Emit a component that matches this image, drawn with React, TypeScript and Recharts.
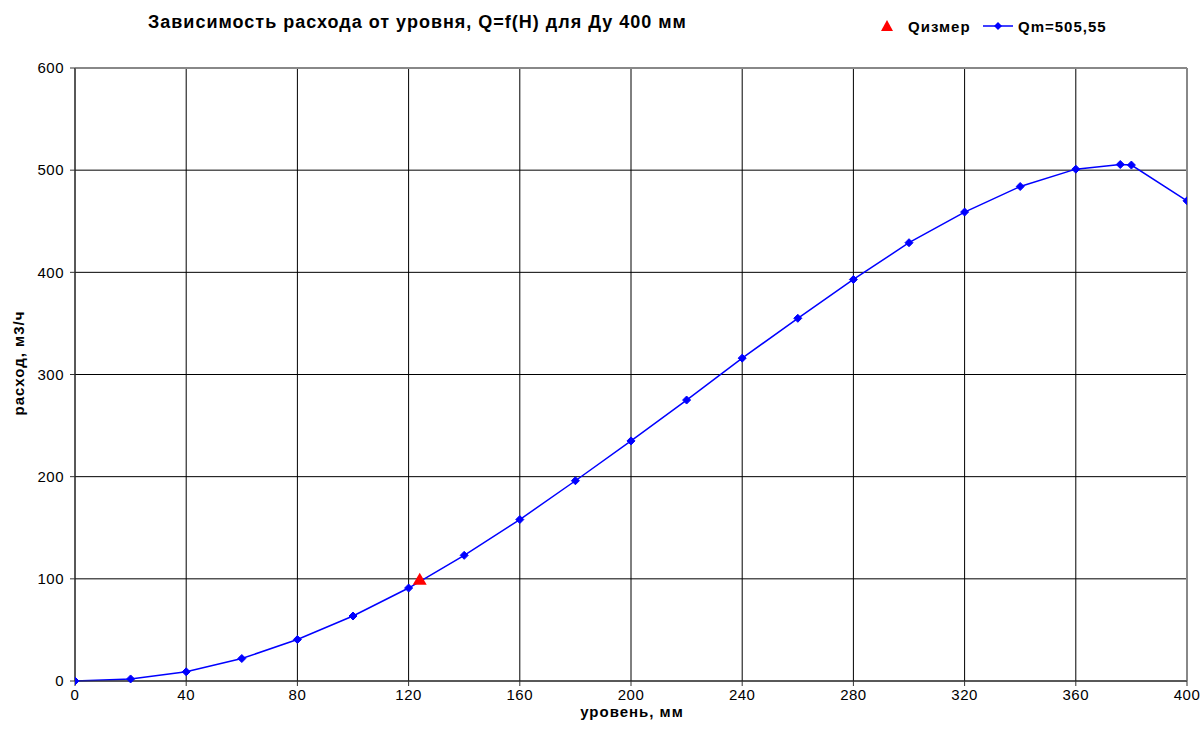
import React from 'react';
import {
  ComposedChart,
  Line,
  Scatter,
  XAxis,
  YAxis,
  CartesianGrid,
  ReferenceLine,
} from 'recharts';

const levels = [0, 20, 40, 60, 80, 100, 120, 140, 160, 180, 200, 220, 240, 260, 280, 300, 320, 340, 360, 376, 380, 400];
const flows = [0, 2, 9, 22, 40.6, 63.6, 91, 123, 158, 196, 235, 275, 316, 355, 393, 429, 459, 484, 501, 505.55, 505, 470];

const measuredLevel = [124];
const measuredFlow = [99];

const xTicks = [0, 40, 80, 120, 160, 200, 240, 280, 320, 360, 400];
const yTicks = [0, 100, 200, 300, 400, 500, 600];

const curveData = levels.map((h, i) => ({ h, q: flows[i] }));
const measuredData = measuredLevel.map((h, i) => ({ h, q: measuredFlow[i] }));

const FONT = 'Liberation Sans, Arial, sans-serif';

const Diamond = (props: any) => {
  const { cx, cy } = props;
  if (cx == null || cy == null) return null;
  const r = 4;
  return (
    <path
      d={`M${cx},${cy - r} L${cx + r},${cy} L${cx},${cy + r} L${cx - r},${cy} Z`}
      fill="#0000ff"
      stroke="#0000ff"
    />
  );
};

const Triangle = (props: any) => {
  const { cx, cy } = props;
  if (cx == null || cy == null) return null;
  return (
    <path
      d={`M${cx},${cy - 7} L${cx + 7},${cy + 5} L${cx - 7},${cy + 5} Z`}
      fill="#ff0000"
    />
  );
};

const tickStyle = { fill: '#000', fontSize: 15, fontFamily: FONT, letterSpacing: 0.5 };

export default function App() {
  return (
    <div style={{ position: 'absolute', left: 0, top: 0, width: 1204, height: 746, background: '#fff', fontFamily: FONT }}>
      <div
        style={{
          position: 'absolute',
          left: 148,
          top: 22,
          transform: 'translateY(-50%)',
          fontSize: 18,
          letterSpacing: 1,
          fontWeight: 'bold',
          color: '#000',
          whiteSpace: 'nowrap',
        }}
      >
        Зависимость расхода от уровня, Q=f(H) для Ду 400 мм
      </div>

      <svg style={{ position: 'absolute', left: 875, top: 14 }} width={250} height={26}>
        <path d="M12,6 L18,17 L6,17 Z" fill="#ff0000" />
        <text x={33} y={18} fontSize={15} fontWeight="bold" fontFamily={FONT} letterSpacing={1}>Qизмер</text>
        <line x1={108} y1={12} x2={138} y2={12} stroke="#0000ff" strokeWidth={1.5} />
        <path d="M123,8 L127,12 L123,16 L119,12 Z" fill="#0000ff" />
        <text x={143} y={18} fontSize={15} fontWeight="bold" fontFamily={FONT} letterSpacing={1}>Qm=505,55</text>
      </svg>

      <div
        style={{
          position: 'absolute',
          left: 18,
          top: 363,
          transform: 'translate(-50%, -50%) rotate(-90deg)',
          fontSize: 15,
          letterSpacing: 1,
          fontWeight: 'bold',
          whiteSpace: 'nowrap',
        }}
      >
        расход, м3/ч
      </div>
      <div
        style={{
          position: 'absolute',
          left: 632,
          top: 711,
          transform: 'translate(-50%, -50%)',
          fontSize: 15,
          letterSpacing: 1,
          fontWeight: 'bold',
          whiteSpace: 'nowrap',
        }}
      >
        уровень, мм
      </div>

      <ComposedChart
        width={1204}
        height={746}
        margin={{ top: 68, right: 17, left: 15, bottom: 35 }}
        style={{ position: 'absolute', left: 0, top: 0 }}
      >
        <CartesianGrid stroke="#000" strokeWidth={1} />
        <XAxis
          type="number"
          dataKey="h"
          domain={[0, 400]}
          ticks={xTicks}
          allowDataOverflow
          height={30}
          stroke="#333"
          tickSize={5}
          tick={tickStyle}
          tickMargin={3}
        />
        <YAxis
          type="number"
          dataKey="q"
          domain={[0, 600]}
          ticks={yTicks}
          width={60}
          stroke="#333"
          tickSize={5}
          tick={tickStyle}
          tickMargin={6}
        />
        <ReferenceLine y={600} stroke="#888" strokeWidth={2} />
        <ReferenceLine x={400} stroke="#888" strokeWidth={2} />
        <Line
          data={curveData}
          dataKey="q"
          stroke="#0000ff"
          strokeWidth={1.5}
          dot={<Diamond />}
          activeDot={false}
          isAnimationActive={false}
        />
        <Scatter
          data={measuredData}
          dataKey="q"
          shape={<Triangle />}
          isAnimationActive={false}
        />
      </ComposedChart>
    </div>
  );
}
